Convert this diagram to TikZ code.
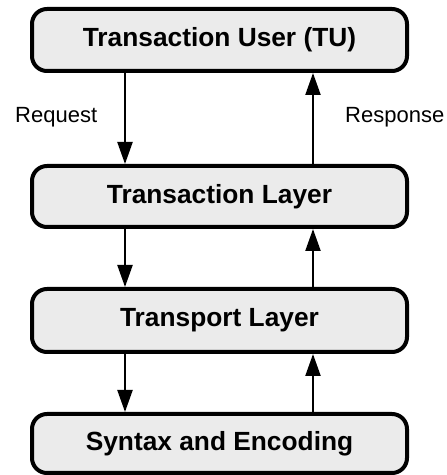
\documentclass[tikz,border=0pt]{standalone}
\usepackage{fontspec}
\setmainfont{Liberation Sans}
\usetikzlibrary{arrows.meta}
\tikzset{
  layer/.style={draw=black, line width=4pt, fill=black!8, rounded corners=15pt,
    minimum width=375pt, inner sep=0pt, font=\bfseries\fontsize{26.3}{31}\selectfont},
  flow/.style={line width=2.2pt, -{Triangle[length=22pt,width=15pt]}},
  lbl/.style={font=\fontsize{22}{26}\selectfont, inner sep=0pt}
}
\begin{document}
\begin{tikzpicture}[x=1pt,y=1pt]
  \useasboundingbox (0,0) rectangle (447,475);
  \node[layer, minimum height=62pt] (tu) at (219.5,435) {Transaction User (TU)};
  \node[layer, minimum height=61pt] (tl) at (219.5,278.5) {Transaction Layer};
  \node[layer, minimum height=63pt] (tp) at (219.5,154.5) {Transport Layer};
  \node[layer, minimum height=59pt] (se) at (219.5,31.5) {Syntax and Encoding};
  % downward requests (left column) and upward responses (right column)
  \foreach \a/\b in {tu/tl, tl/tp, tp/se} {
    \draw[flow] (\a.south -| 125,0) -- (\b.north -| 125,0);
    \draw[flow] (\b.north -| 313,0) -- (\a.south -| 313,0);
  }
  \node[lbl, anchor=west] (req) at (15,358) {Request};
  \node[lbl, anchor=west] (resp) at (345,358) {Response};
\end{tikzpicture}
\end{document}
